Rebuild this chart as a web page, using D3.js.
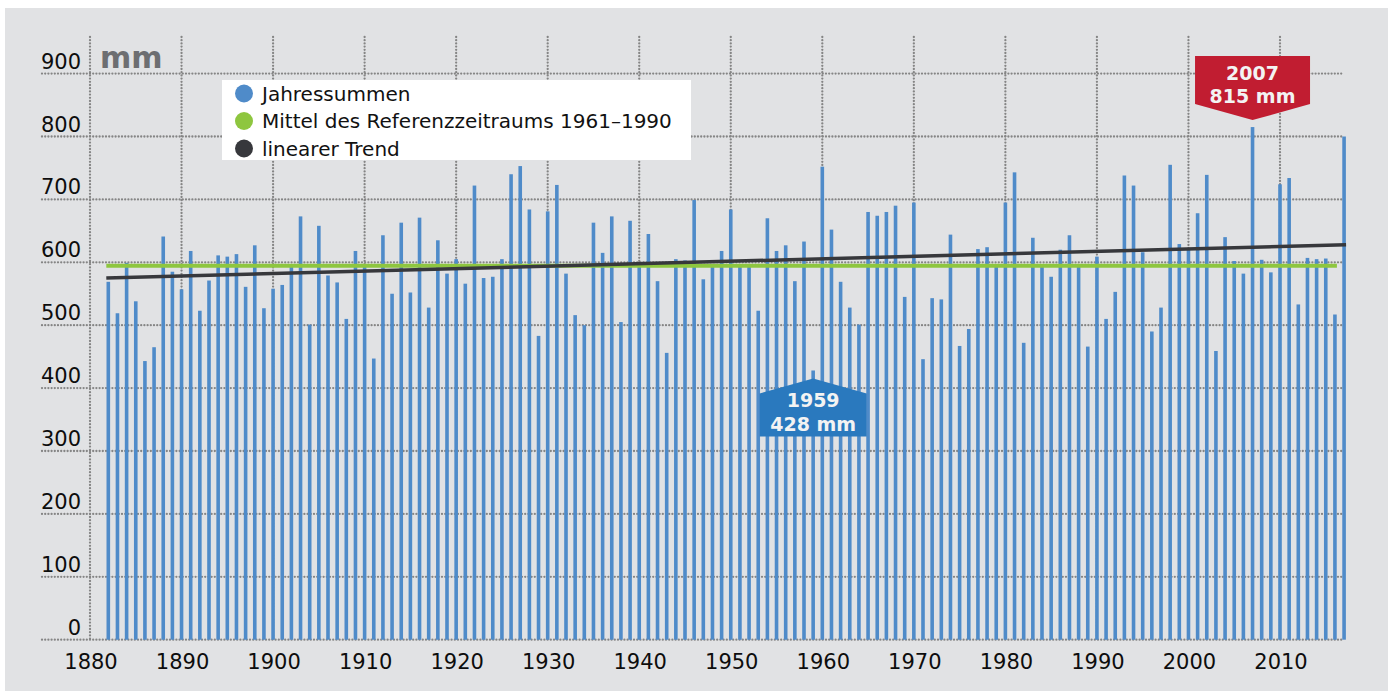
<!DOCTYPE html>
<html>
<head>
<meta charset="utf-8">
<script src="https://cdn.jsdelivr.net/npm/d3@7"></script>
<style>
  html, body { margin: 0; padding: 0; background: #ffffff; }
  svg { display: block; font-family: "DejaVu Sans", Verdana, sans-serif; }
</style>
</head>
<body>
<svg id="chart"></svg>
<script>
// annual precipitation totals (mm), one value per year starting at firstYear
const firstYear = 1882;
const values = [
  569, 519, 599, 538, 443, 465, 641, 585,
  557, 618, 523, 571, 611, 609, 613, 561, 627, 527,
  558, 564, 594, 673, 501, 658, 579, 568, 510, 618,
  594, 447, 643, 550, 663, 552, 671, 528, 635, 582,
  605, 566, 722, 575, 577, 605, 740, 753, 684, 483,
  681, 723, 582, 516, 500, 663, 615, 673, 505, 666,
  594, 645, 570, 456, 605, 603, 699, 573, 594, 618,
  684, 597, 594, 523, 670, 618, 627, 570, 633, 428,
  752, 652, 569, 528, 501, 680, 674, 680, 690, 545,
  695, 446, 543, 541, 644, 467, 494, 621, 624, 594,
  695, 743, 472, 639, 594, 577, 620, 643, 594, 466,
  609, 510, 553, 738, 722, 616, 490, 528, 755, 629,
  622, 678, 739, 459, 640, 602, 582, 815, 604, 584,
  724, 734, 533, 607, 605, 606, 517, 800
];
const years = values.map((v, i) => firstYear + i);

const yTicks = [0, 100, 200, 300, 400, 500, 600, 700, 800, 900];
const xTicks = [1880, 1890, 1900, 1910, 1920, 1930, 1940, 1950, 1960, 1970, 1980, 1990, 2000, 2010];

// reference mean 1961-1990 and linear trend end points
const refMean = 594.5;
const refYears = [1882, 2016];
const trendYears = [1882, 2017];
const trendValues = [575, 628];

const legendLabels = ["Jahressummen", "Mittel des Referenzzeitraums 1961–1990", "linearer Trend"];
const legendColors = ["#4f8bc9", "#8ec63f", "#37383c"];

const annotations = [
  { year: 1959, value: 428, lines: ["1959", "428 mm"], color: "#2a79be", dir: "up" },
  { year: 2007, value: 815, lines: ["2007", "815 mm"], color: "#c11d31", dir: "down" }
];

const w = 1395;
const h = 691;

const svg = d3.select("#chart").attr("width", w).attr("height", h);

svg.append("rect")
  .attr("x", 5).attr("y", 8)
  .attr("width", 1383).attr("height", 683)
  .attr("fill", "#e1e2e4");

const x = d3.scaleLinear().domain([1880, 2010]).range([90, 1280]);
const y = d3.scaleLinear().domain([0, 900]).range([639.7, 73.6]);

const grid = svg.append("g")
  .attr("stroke", "#858585")
  .attr("stroke-width", 2.3)
  .attr("stroke-linecap", "round")
  .attr("stroke-dasharray", "0 3.2");

grid.selectAll(".hgrid")
  .data(yTicks)
  .enter()
  .append("line")
  .attr("x1", 42)
  .attr("x2", x(2017))
  .attr("y1", (d) => y(d))
  .attr("y2", (d) => y(d));

grid.selectAll(".vgrid")
  .data(xTicks)
  .enter()
  .append("line")
  .attr("x1", (d) => x(d))
  .attr("x2", (d) => x(d))
  .attr("y1", 37)
  .attr("y2", y(0));

svg.selectAll(".ylabel")
  .data(yTicks)
  .enter()
  .append("text")
  .attr("x", 81)
  .attr("y", (d) => y(d) - 5)
  .attr("text-anchor", "end")
  .attr("font-size", "21px")
  .attr("fill", "#0d0d0d")
  .text((d) => d);

svg.selectAll(".xlabel")
  .data(xTicks)
  .enter()
  .append("text")
  .attr("x", (d) => x(d) + 1)
  .attr("y", 669)
  .attr("text-anchor", "middle")
  .attr("font-size", "21px")
  .attr("fill", "#0d0d0d")
  .text((d) => d);

svg.append("text")
  .attr("x", 100)
  .attr("y", 68)
  .attr("font-size", "30px")
  .attr("font-weight", "bold")
  .attr("fill", "#6d6e71")
  .text("mm");

// bars
const barW = 3.6;
svg.append("g")
  .selectAll("rect")
  .data(values)
  .enter()
  .append("rect")
  .attr("x", (d, i) => x(years[i]) - barW / 2)
  .attr("y", (d) => y(d))
  .attr("width", barW)
  .attr("height", (d) => y(0) - y(d))
  .attr("fill", legendColors[0]);

// reference mean
svg.append("line")
  .attr("x1", x(refYears[0]) - 2)
  .attr("x2", x(refYears[1]) + 2)
  .attr("y1", y(refMean))
  .attr("y2", y(refMean))
  .attr("stroke", legendColors[1])
  .attr("stroke-width", 4);

// trend
svg.append("line")
  .attr("x1", x(trendYears[0]) - 2)
  .attr("x2", x(trendYears[1]) + 2)
  .attr("y1", y(trendValues[0]))
  .attr("y2", y(trendValues[1]))
  .attr("stroke", legendColors[2])
  .attr("stroke-width", 3.5);

// legend
const legend = svg.append("g");
legend.append("rect")
  .attr("x", 222).attr("y", 80)
  .attr("width", 469).attr("height", 80)
  .attr("fill", "#ffffff");

const items = legend.selectAll(".legend-item")
  .data(legendLabels)
  .enter()
  .append("g");

items.append("circle")
  .attr("cx", 244)
  .attr("cy", (d, i) => 93.5 + i * 27.5)
  .attr("r", 9)
  .attr("fill", (d, i) => legendColors[i]);

items.append("text")
  .attr("x", 262)
  .attr("y", (d, i) => 100.5 + i * 27.5)
  .attr("font-size", "20px")
  .attr("fill", "#111")
  .text((d) => d);

// extreme value call-outs
annotations.forEach((a) => {
  const cx = x(a.year);
  let pts, base;
  if (a.dir === "up") {
    const ay = y(a.value) + 8;
    const hw = 53.5;
    pts = [[cx, ay], [cx + hw, ay + 15], [cx + hw, ay + 58], [cx - hw, ay + 58], [cx - hw, ay + 15]];
    base = [ay + 28.5, ay + 52.8];
  } else {
    const ay = y(a.value) - 7;
    const hw = 57.5;
    pts = [[cx, ay], [cx + hw, ay - 16], [cx + hw, ay - 64], [cx - hw, ay - 64], [cx - hw, ay - 16]];
    base = [ay - 40, ay - 16.7];
  }
  svg.append("polygon")
    .attr("points", pts.map((p) => p.join(",")).join(" "))
    .attr("fill", a.color);
  svg.selectAll(null)
    .data(a.lines)
    .enter()
    .append("text")
    .attr("x", cx)
    .attr("y", (d, i) => base[i])
    .attr("text-anchor", "middle")
    .attr("font-size", "19px")
    .attr("font-weight", "bold")
    .attr("fill", "#f3f3f3")
    .text((d) => d);
});
</script>
</body>
</html>
